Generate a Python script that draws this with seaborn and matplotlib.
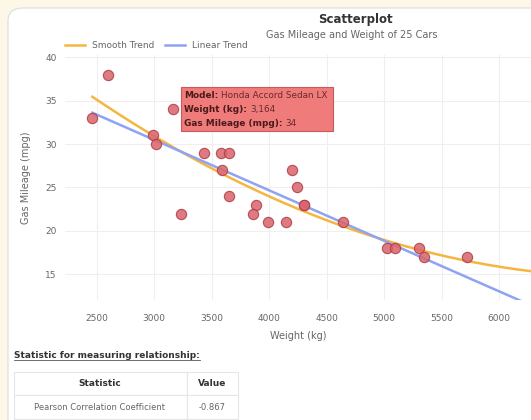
import numpy as np
import pandas as pd
import seaborn as sns
import matplotlib.pyplot as plt
from matplotlib.patches import FancyBboxPatch, Rectangle

# data
weight = [2462, 2596, 2992, 3016, 3164, 3233, 3436, 3581, 3653, 3592, 3650, 3885, 3862,
          3992, 4143, 4196, 4244, 4303, 4303, 4644, 5022, 5094, 5302, 5343, 5717]
mileage = [33, 38, 31, 30, 34, 22, 29, 29, 29, 27, 24, 23, 22,
           21, 21, 27, 25, 23, 23, 21, 18, 18, 18, 17, 17]
xticks = [2500, 3000, 3500, 4000, 4500, 5000, 5500, 6000]
yticks = [15, 20, 25, 30, 35, 40]
pearson = "-0.867"

df = pd.DataFrame({"Weight (kg)": weight, "Gas Mileage (mpg)": mileage})

# trend lines fitted to the points
xs = np.linspace(min(weight), 6400, 200)
lin = np.polyfit(weight, mileage, 1)
quad = np.polyfit(weight, mileage, 2)
trend = pd.DataFrame({"x": np.concatenate([xs, xs]),
                      "y": np.concatenate([np.polyval(quad, xs), np.polyval(lin, xs)]),
                      "kind": ["Smooth Trend"] * len(xs) + ["Linear Trend"] * len(xs)})

W, H = 531, 420
fig = plt.figure(figsize=(W / 100, H / 100), dpi=100)
fig.patch.set_facecolor("#fcf7e6")

# white card
card = FancyBboxPatch((8 / W, -0.2), 1.2, 1 - 8 / H + 0.2, boxstyle="round,pad=0,rounding_size=0.03",
                      transform=fig.transFigure, facecolor="white", edgecolor="#dcdcdc", lw=0.8,
                      zorder=-10)
fig.patches.append(card)

ax = fig.add_axes([65 / W, 1 - 300 / H, 466 / W, 245 / H])
ax.set_facecolor("none")

sns.lineplot(data=trend, x="x", y="y", hue="kind", palette=["#f5b640", "#8ea3f2"],
             linewidth=1.8, ax=ax, zorder=2)
sns.scatterplot(data=df, x="Weight (kg)", y="Gas Mileage (mpg)", s=55, color="#d9646a",
                edgecolor="#b03a45", linewidth=0.8, alpha=0.85, ax=ax, zorder=3)

ax.set_xlim(2224, 6276)
ax.set_ylim(12.04, 40.26)
ax.set_xticks(xticks)
ax.set_yticks(yticks)
ax.grid(True, color="#efefef", lw=0.8)
ax.set_axisbelow(True)
for s in ax.spines.values():
    s.set_visible(False)
ax.tick_params(length=0, labelsize=6.5, labelcolor="#666666")
ax.tick_params(axis="x", pad=10)
ax.tick_params(axis="y", pad=6)
ax.set_xlabel("Weight (kg)", fontsize=7, color="#666666", labelpad=6)
ax.set_ylabel("Gas Mileage (mpg)", fontsize=7, color="#666666", labelpad=10)

leg = ax.legend(loc="lower left", bbox_to_anchor=(-0.01, 1.0), ncol=2, frameon=False,
                fontsize=6.5, handlelength=2.2, columnspacing=1.2, borderaxespad=0.1)
for t in leg.get_texts():
    t.set_color("#666666")

# titles
fig.text(355 / W, 1 - 20 / H, "Scatterplot", ha="center", va="center", fontsize=8.5,
         fontweight="bold", color="#333333")
fig.text(352 / W, 1 - 35 / H, "Gas Mileage and Weight of 25 Cars", ha="center", va="center",
         fontsize=7, color="#666666")

# tooltip
tip = FancyBboxPatch((181 / W, 1 - 131 / H), 152 / W, 44 / H, boxstyle="square,pad=0",
                     transform=fig.transFigure, facecolor="#ef7b7b", edgecolor="#c85a5a", lw=0.8,
                     zorder=5)
fig.patches.append(tip)
tip_rows = [("Model:", "Honda Accord Sedan LX"), ("Weight (kg):", "3,164"),
            ("Gas Mileage (mpg):", "34")]
for i, (k, v) in enumerate(tip_rows):
    yy = 1 - (96 + 13.5 * i) / H
    t = fig.text(184 / W, yy, k, fontsize=6.4, fontweight="bold", color="#4a1a1a", va="center", zorder=6)
    fig.canvas.draw()
    bb = t.get_window_extent()
    fig.text(bb.x1 / W + 3 / W, yy, v, fontsize=6.4, color="#6a2a2a", va="center", zorder=6)

# statistic section
fig.text(14 / W, 1 - 355 / H, "Statistic for measuring relationship:", fontsize=6.5,
         fontweight="bold", color="#333333", va="center")
fig.add_artist(plt.Line2D([14 / W, 200 / W], [1 - 360 / H, 1 - 360 / H], color="#555555", lw=0.6))

for (x0, x1) in [(14, 187), (187, 238)]:
    for (y0, y1) in [(372, 395), (395, 419)]:
        fig.patches.append(Rectangle((x0 / W, 1 - y1 / H), (x1 - x0) / W, (y1 - y0) / H,
                                     transform=fig.transFigure, facecolor="white",
                                     edgecolor="#e6e6e6", lw=0.8))
fig.text(100 / W, 1 - 383 / H, "Statistic", ha="center", va="center", fontsize=6.5,
         fontweight="bold", color="#333333")
fig.text(212 / W, 1 - 383 / H, "Value", ha="center", va="center", fontsize=6.5,
         fontweight="bold", color="#333333")
fig.text(100 / W, 1 - 408 / H, "Pearson Correlation Coefficient", ha="center", va="center",
         fontsize=6, color="#666666")
fig.text(212 / W, 1 - 408 / H, pearson, ha="center", va="center", fontsize=6, color="#666666")

fig.savefig("out.png", dpi=100)
